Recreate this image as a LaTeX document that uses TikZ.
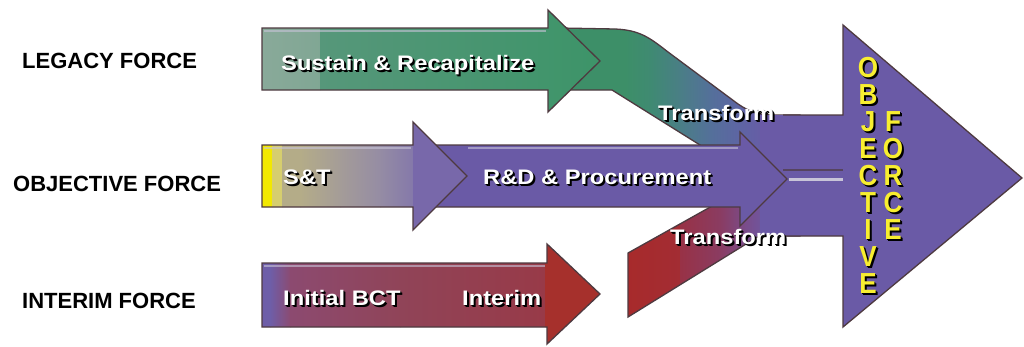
\documentclass[tikz,border=0pt]{standalone}
\usepackage{fontspec}
\setmainfont{Liberation Sans}
\newfontfamily\arrfont[FakeStretch=1.13]{Liberation Sans}
\newfontfamily\vfont[FakeStretch=0.9]{Liberation Sans}
\definecolor{edge}{HTML}{4E3A40}
\definecolor{pur}{HTML}{6A5AA6}
\definecolor{gA}{HTML}{8AAA9A}
\definecolor{gB}{HTML}{56977A}
\definecolor{gC}{HTML}{3C9468}
\definecolor{bA}{HTML}{3D8F68}
\definecolor{bB}{HTML}{3F8A72}
\definecolor{bC}{HTML}{4A7E86}
\definecolor{bD}{HTML}{54709A}
\definecolor{bE}{HTML}{5E64A4}
\definecolor{yA}{HTML}{F2E800}
\definecolor{yB}{HTML}{D6CE6E}
\definecolor{yC}{HTML}{B4AC88}
\definecolor{yD}{HTML}{A49C98}
\definecolor{yE}{HTML}{958CA4}
\definecolor{yF}{HTML}{8478AA}
\definecolor{yG}{HTML}{7868AA}
\definecolor{rA}{HTML}{6E5EA8}
\definecolor{rB}{HTML}{8C4A70}
\definecolor{rC}{HTML}{904458}
\definecolor{rD}{HTML}{983A48}
\definecolor{rE}{HTML}{A6302C}
\definecolor{sA}{HTML}{A82A2A}
\definecolor{sB}{HTML}{983246}
\definecolor{sC}{HTML}{8A3C62}
\definecolor{sD}{HTML}{7A4C8A}
\definecolor{vyel}{HTML}{F8EE30}
\definecolor{hil}{HTML}{C8C4D8}
\newcommand\hsh[4]{\shade[left color=#3,right color=#4] (#1,-10) rectangle (#2,360);}
\newcommand\shtxt[2]{\rlap{\kern2pt\raisebox{-2pt}{\color{black}#2}}\rlap{\kern1pt\raisebox{-1pt}{\color{black}#2}}{\color{#1}#2}}
\begin{document}
\begin{tikzpicture}[x=1pt,y=-1pt,
  outl/.style={draw=edge, line width=1.3pt, line join=miter},
  lbl/.style={font=\bfseries\fontsize{22}{26}\selectfont, anchor=base west, inner sep=0pt, text=black},
  atxt/.style={font=\arrfont\bfseries\fontsize{21}{24}\selectfont, anchor=base west, inner sep=0pt},
  vtxt/.style={font=\vfont\bfseries\fontsize{29}{27}\selectfont, align=center, anchor=north, inner sep=0pt},
  hl/.style={draw=hil, line width=1.6pt, opacity=.6}]
\useasboundingbox (0,0) rectangle (1024,346);
\fill[white] (0,0) rectangle (1024,346);

% upper transform band (green to purple)
\draw[outl, path picture={
  \hsh{540}{626}{bA}{bA}\hsh{625}{651}{bA}{bB}\hsh{650}{681}{bB}{bC}
  \hsh{680}{711}{bC}{bD}\hsh{710}{741}{bD}{bE}\hsh{740}{771}{bE}{pur}\hsh{770}{810}{pur}{pur}}]
  (560,28) -- (615,29) .. controls (640,30) and (650,38) .. (668,52) -- (738,104)
  .. controls (750,112) and (758,115) .. (775,115) -- (800,115) -- (800,175)
  -- (720,175) -- (700,145) -- (612,90) -- (560,90) -- cycle;

% lower transform band (red to purple)
\draw[outl, path picture={
  \hsh{620}{681}{sA}{sB}\hsh{680}{721}{sB}{sC}\hsh{720}{746}{sC}{sD}
  \hsh{745}{771}{sD}{pur}\hsh{770}{810}{pur}{pur}}]
  (628,253) -- (730,196) -- (800,196) -- (800,236) -- (759,236) -- (628,317) -- cycle;

% objective force arrow
\fill[pur] (760,115) -- (843,115) -- (843,25) -- (1022,178) -- (843,327) -- (843,236) -- (760,236) -- cycle;
\draw[outl] (783,115) -- (843,115) -- (843,25) -- (1022,178) -- (843,327) -- (843,236) -- (765,236);
\draw[draw=edge!70!pur, line width=1.2pt] (783,170) -- (843,170);
\draw[draw=hil, line width=3pt] (789,179) -- (843,179);

% legacy arrow
\draw[outl, path picture={\hsh{255}{321}{gA}{gB}\hsh{320}{610}{gB}{gC}}]
  (262,28) -- (548,28) -- (548,10) -- (600,61) -- (548,112) -- (548,90) -- (262,90) -- cycle;
\draw[hl] (264,31) -- (546,31);

% R&D arrow
\draw[outl, fill=pur] (430,145) -- (740,145) -- (740,132) -- (787,179) -- (740,226) -- (740,207) -- (430,207) -- cycle;
\draw[hl] (468,148) -- (738,148);

% S&T arrow
\draw[outl, path picture={
  \hsh{255}{273}{yA}{yA}\hsh{272}{283}{yB}{yB}\hsh{282}{301}{yC}{yC}
  \hsh{300}{341}{yC}{yD}\hsh{340}{381}{yD}{yE}\hsh{380}{414}{yE}{yF}\hsh{413}{470}{yG}{yG}}]
  (262,145) -- (413,145) -- (413,122) -- (467,176) -- (413,230) -- (413,207) -- (262,207) -- cycle;
\draw[hl] (264,148) -- (411,148);

% interim arrow
\draw[outl, path picture={
  \hsh{255}{271}{rA}{rA}\hsh{270}{291}{rA}{rB}\hsh{290}{401}{rB}{rC}
  \hsh{400}{546}{rC}{rD}\hsh{545}{610}{rE}{rE}}]
  (262,263) -- (547,263) -- (547,244) -- (600,294) -- (547,344) -- (547,327) -- (262,327) -- cycle;
\draw[hl] (264,266) -- (545,266);

% left labels
\node[lbl] (legacy) at (22,68) {LEGACY FORCE};
\node[lbl] (objective) at (13,191) {OBJECTIVE FORCE};
\node[lbl] (interim) at (22,308) {INTERIM FORCE};

% arrow texts
\node[atxt] (sustain) at (281,70) {\shtxt{white}{Sustain \& Recapitalize}};
\node[atxt] (st) at (283,184) {\shtxt{white}{S\&T}};
\node[atxt] (rd) at (483,184) {\shtxt{white}{R\&D \& Procurement}};
\node[atxt] (ibct) at (283,305) {\shtxt{white}{Initial BCT}};
\node[atxt] (interimtxt) at (462,305) {\shtxt{white}{Interim}};
\node[atxt] (trup) at (658,120) {\shtxt{white}{Transform}};
\node[atxt] (trlo) at (670,244) {\shtxt{white}{Transform}};

% vertical texts
\node[vtxt] (objcol) at (868,57) {\shtxt{vyel}{O}\\\shtxt{vyel}{B}\\\shtxt{vyel}{J}\\\shtxt{vyel}{E}\\\shtxt{vyel}{C}\\\shtxt{vyel}{T}\\\shtxt{vyel}{I}\\\shtxt{vyel}{V}\\\shtxt{vyel}{E}};
\node[vtxt] (forcecol) at (893,111) {\shtxt{vyel}{F}\\\shtxt{vyel}{O}\\\shtxt{vyel}{R}\\\shtxt{vyel}{C}\\\shtxt{vyel}{E}};
\end{tikzpicture}
\end{document}
